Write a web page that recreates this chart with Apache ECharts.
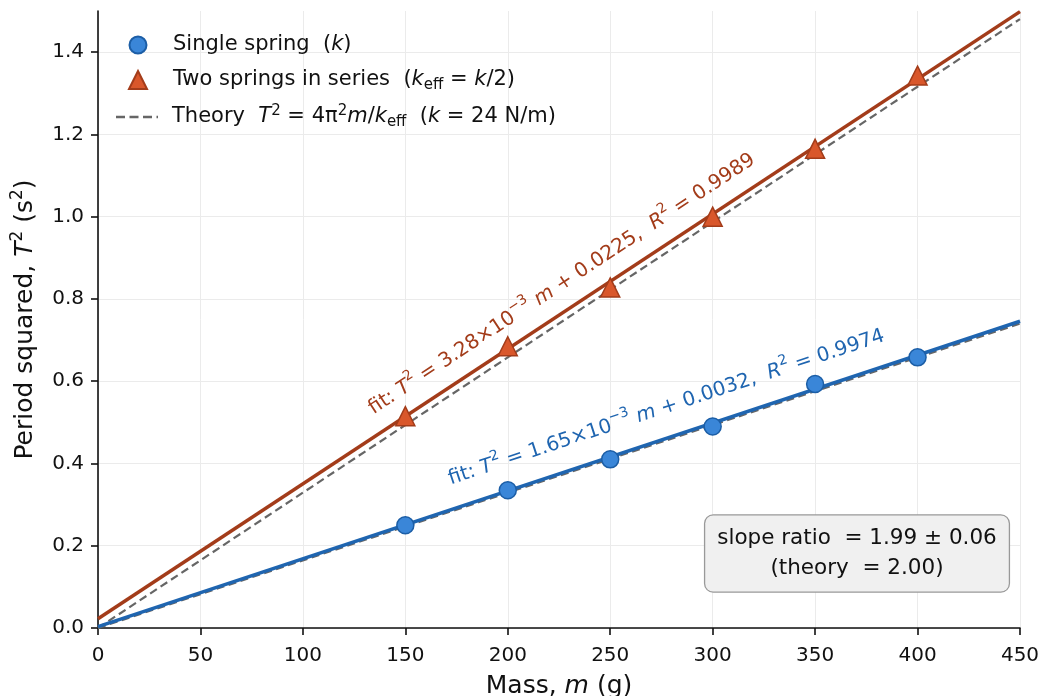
<!DOCTYPE html>
<html>
<head>
<meta charset="utf-8">
<script src="https://cdn.jsdelivr.net/npm/echarts@6/dist/echarts.min.js"></script>
<style>
html,body{margin:0;padding:0;background:#fff;}
#main{width:1043px;height:696px;}
</style>
</head>
<body>
<div id="main"></div>
<script>
// ---------- data ----------
const massG = [150, 200, 250, 300, 350, 400];
const singleT2 = [0.250, 0.335, 0.410, 0.490, 0.593, 0.658];
const seriesT2 = [0.515, 0.685, 0.828, 1.000, 1.165, 1.343];
// fit coefficients: [slope per g, intercept]
const fitSingle = [1.65e-3, 0.0032];
const fitSeries = [3.28e-3, 0.0225];
// theory: spring constant (N/m) and effective constants
const kSpring = 24;
const kEff = [24, 12];
const xRange = [0, 450];
const xTicks = [0, 50, 100, 150, 200, 250, 300, 350, 400, 450];
const yTicks = [0.0, 0.2, 0.4, 0.6, 0.8, 1.0, 1.2, 1.4];

const FONT = 'DejaVu Sans';
const BLUE_LINE = '#1f65b0', BLUE_FILL = '#3a86d8', BLUE_EDGE = '#1c5ea6';
const RED_LINE = '#a33c1a', RED_FILL = '#d9572b', RED_EDGE = '#a33c1a';
const GRAY = '#666666';

function lineFrom(slope, icpt) {
  return xRange.map(x => [x, slope * x + icpt]);
}
function theoryLine(k) {
  const s = 4 * Math.PI * Math.PI / k / 1000;
  return xRange.map(x => [x, s * x]);
}

const chart = echarts.init(document.getElementById('main'), null, {renderer: 'canvas'});

const LFS = 21;
const legendRich = {
  i: {fontStyle: 'italic', fontFamily: FONT, fontSize: LFS, lineHeight: 26, color: '#111'},
  sup: {fontFamily: FONT, fontSize: 15, lineHeight: 14, verticalAlign: 'top', color: '#111'},
  sub: {fontFamily: FONT, fontSize: 15, lineHeight: 18, verticalAlign: 'bottom', color: '#111'}
};
const legendLabels = {
  single: 'Single spring  ({i|k})',
  series: 'Two springs in series  ({i|k}{sub|eff} = {i|k}/2)',
  theory: 'Theory  {i|T}{sup|2} = 4π{sup|2}{i|m}/{i|k}{sub|eff}  ({i|k} = ' + kSpring + ' N/m)'
};
function makeLegend(name, icon, top, iconW, iconH, left, padLeft) {
  return {
    orient: 'vertical', left: left, top: top, padding: 0,
    itemWidth: iconW, itemHeight: iconH, itemGap: 0,
    data: [{name: name, icon: icon}],
    formatter: n => legendLabels[n],
    textStyle: {fontFamily: FONT, fontSize: LFS, lineHeight: 26, color: '#111',
      padding: [0, 0, 0, padLeft], rich: legendRich}
  };
}

const option = {
  animation: false,
  backgroundColor: '#ffffff',
  grid: {left: 98, right: 23, top: 11, bottom: 68, containLabel: false, outerBoundsMode: 'none'},
  legend: [
    makeLegend('single', 'circle', 32, 17, 17, 128.5, 21.5),
    makeLegend('series', 'triangle', 67, 18, 18, 128, 21),
    makeLegend('theory', 'path://M0 0h9v2.5H0z M13.5 0h9v2.5h-9z M27 0h9v2.5h-9z M40.5 0h1.5v2.5h-1.5z', 104, 42, 17, 116, 9)
  ],
  xAxis: {
    type: 'value', min: xRange[0], max: xRange[1], interval: 50,
    name: 'Mass, {i|m} (g)', nameLocation: 'middle', nameGap: 46,
    nameTextStyle: {fontFamily: FONT, fontSize: 25, color: '#111',
      rich: {i: {fontFamily: FONT, fontSize: 25, fontStyle: 'italic', color: '#111'}}},
    axisLine: {show: true, onZero: false, lineStyle: {color: '#111', width: 1.6}},
    axisTick: {show: true, inside: false, length: 7, lineStyle: {color: '#111', width: 1.6}},
    axisLabel: {fontFamily: FONT, fontSize: 20, color: '#111', margin: 18},
    splitLine: {show: true, lineStyle: {color: '#ebebeb', width: 1}}
  },
  yAxis: {
    type: 'value', min: 0, max: 1.5,
    name: 'Period squared, {i|T}{sup|2} (s{sup|2})', nameLocation: 'middle', nameGap: 57,
    nameTextStyle: {fontFamily: FONT, fontSize: 25, color: '#111', lineHeight: 32,
      rich: {
        i: {fontFamily: FONT, fontSize: 25, fontStyle: 'italic', color: '#111', lineHeight: 32},
        sup: {fontFamily: FONT, fontSize: 17, color: '#111', lineHeight: 18, verticalAlign: 'top'}
      }},
    axisLine: {show: true, onZero: false, lineStyle: {color: '#111', width: 1.6}},
    axisTick: {show: true, inside: false, length: 7, lineStyle: {color: '#111', width: 1.6}, customValues: yTicks},
    axisLabel: {fontFamily: FONT, fontSize: 20, color: '#111', margin: 14, customValues: yTicks,
      formatter: v => v.toFixed(1)},
    splitLine: {show: true, lineStyle: {color: '#ebebeb', width: 1}}
  },
  series: [
    {name: 'theory', type: 'line', data: theoryLine(kEff[0]), symbol: 'none', z: 2,
      color: GRAY, lineStyle: {color: GRAY, width: 2.2, type: [8, 4.5]}},
    {name: 'theory', type: 'line', data: theoryLine(kEff[1]), symbol: 'none', z: 2,
      color: GRAY, lineStyle: {color: GRAY, width: 2.2, type: [8, 4.5]}},
    {name: 'fitSingle', type: 'line', data: lineFrom(fitSingle[0], fitSingle[1]), symbol: 'none', z: 3,
      lineStyle: {color: BLUE_LINE, width: 3.5}},
    {name: 'fitSeries', type: 'line', data: lineFrom(fitSeries[0], fitSeries[1]), symbol: 'none', z: 3,
      lineStyle: {color: RED_LINE, width: 3.5}},
    {name: 'single', type: 'scatter', symbol: 'circle', symbolSize: 17, z: 5,
      data: massG.map((m, i) => [m, singleT2[i]]),
      color: BLUE_FILL,
      itemStyle: {color: BLUE_FILL, borderColor: BLUE_EDGE, borderWidth: 1.5, opacity: 1}},
    {name: 'series', type: 'scatter', symbol: 'triangle', symbolSize: 19, z: 5,
      data: massG.map((m, i) => [m, seriesT2[i]]),
      color: RED_FILL,
      itemStyle: {color: RED_FILL, borderColor: RED_EDGE, borderWidth: 1.5, opacity: 1}}
  ]
};
chart.setOption(option);

// ---------- annotations ----------
function px(pt) { return chart.convertToPixel({gridIndex: 0}, pt); }
function angleOf(fit) {
  const a = px([xRange[0], fit[1]]);
  const b = px([xRange[1], fit[0] * xRange[1] + fit[1]]);
  return Math.atan2(a[1] - b[1], b[0] - a[0]);
}
function annRich(color) {
  return {
    i: {fontFamily: FONT, fontSize: 20, fontStyle: 'italic', fill: color, lineHeight: 30},
    sup: {fontFamily: FONT, fontSize: 14, fill: color, lineHeight: 14, verticalAlign: 'top'}
  };
}
function fitText(fit, r2) {
  const s = (fit[0] * 1000).toFixed(2);
  return 'fit: {i|T}{sup|2} = ' + s + '×10{sup|−3} {i|m} + ' + fit[1].toFixed(4) + ',  {i|R}{sup|2} = ' + r2;
}
const redC = px([226.5, 0.836]);
const blueC = px([277.5, 0.536]);
const corner = px([xRange[1], 0]);

chart.setOption({
  graphic: [
    {type: 'text', x: redC[0], y: redC[1], rotation: angleOf(fitSeries), z: 10,
      style: {text: fitText(fitSeries, '0.9989'), fontFamily: FONT, fontSize: 20, lineHeight: 30,
        fill: RED_LINE, align: 'center', verticalAlign: 'middle', rich: annRich(RED_LINE)}},
    {type: 'text', x: blueC[0], y: blueC[1], rotation: angleOf(fitSingle), z: 10,
      style: {text: fitText(fitSingle, '0.9974'), fontFamily: FONT, fontSize: 20, lineHeight: 30,
        fill: BLUE_LINE, align: 'center', verticalAlign: 'middle', rich: annRich(BLUE_LINE)}},
    {type: 'text', x: corner[0] - 11 - 152, y: corner[1] - 37 - 37.5, z: 10,
      style: {text: 'slope ratio  = 1.99 ± 0.06\n(theory  = 2.00)', fontFamily: FONT, fontSize: 21.5,
        lineHeight: 30, fill: '#111', align: 'center', verticalAlign: 'middle',
        backgroundColor: '#f0f0f0', borderColor: '#999999', borderWidth: 1.3, borderRadius: 8,
        padding: [8, 12, 8, 12]}}
  ]
});
</script>
</body>
</html>
